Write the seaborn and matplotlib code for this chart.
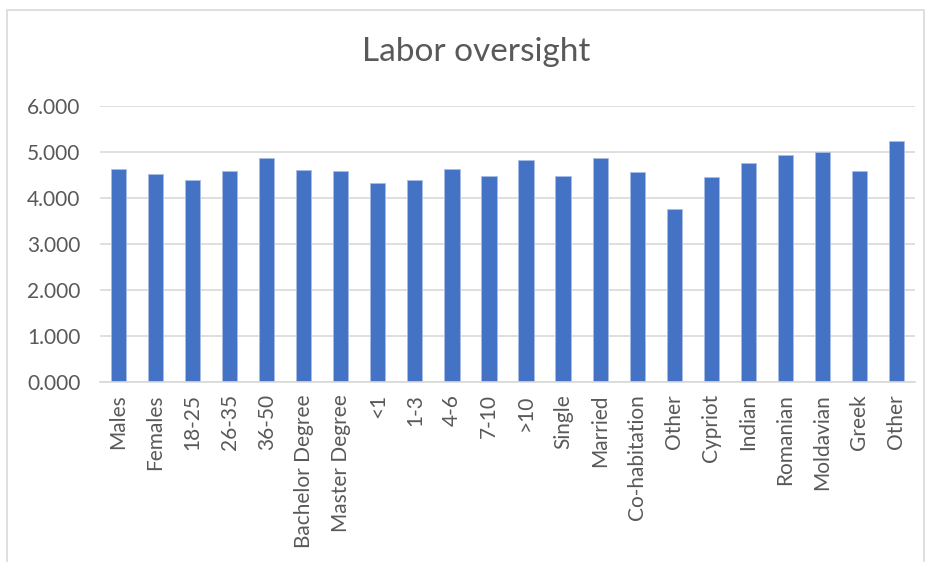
import matplotlib
matplotlib.use("Agg")
import matplotlib.pyplot as plt
from matplotlib.patches import Rectangle
import seaborn as sns
import pandas as pd

# Mean "Labor oversight" score by respondent group
labels = [
    "Males", "Females", "18-25", "26-35", "36-50", "Bachelor Degree",
    "Master Degree", "<1", "1-3", "4-6", "7-10", ">10", "Single", "Married",
    "Co-habitation", "Other", "Cypriot", "Indian", "Romanian", "Moldavian",
    "Greek", "Other",
]
scores = [
    4.63, 4.51, 4.39, 4.58, 4.86, 4.60,
    4.58, 4.31, 4.39, 4.62, 4.47, 4.81, 4.47, 4.86,
    4.56, 3.75, 4.46, 4.75, 4.93, 4.99,
    4.58, 5.24,
]
y_ticks = [0, 1, 2, 3, 4, 5, 6]

sns.set_theme(style="white")
plt.rcParams["font.family"] = ["Lato", "DejaVu Sans"]

text_color = "#595959"
grid_color = "#d9d9d9"
bar_color = "#4472C4"

df = pd.DataFrame({"pos": list(range(len(labels))), "score": scores})

fig = plt.figure(figsize=(9.3, 5.62), dpi=100)
ax = fig.add_axes([100 / 930, 1 - 381.7 / 562, 815 / 930, (381.7 - 105.7) / 562])

sns.barplot(data=df, x="pos", y="score", color=bar_color, saturation=1,
            width=0.41, edgecolor="#a9bde6", linewidth=0.6, ax=ax, zorder=3)

ax.set_xlim(-0.5, len(labels) - 0.5)
ax.set_ylim(0, 6)
ax.set_yticks(y_ticks)
ax.set_yticklabels([f"{v:.3f}" for v in y_ticks], color=text_color, fontsize=15)
ax.set_xticks(range(len(labels)))
ax.set_xticklabels(labels, rotation=90, color=text_color, fontsize=15)
ax.tick_params(axis="y", length=0, pad=14)
ax.tick_params(axis="x", length=0, pad=9)
ax.set_xlabel("")
ax.set_ylabel("")

ax.yaxis.grid(True, color=grid_color, linewidth=1.2, zorder=0)
ax.xaxis.grid(False)
for side in ("top", "right", "left"):
    ax.spines[side].set_visible(False)
ax.spines["bottom"].set_color(grid_color)
ax.spines["bottom"].set_linewidth(1.2)
ax.spines["bottom"].set_zorder(4)

fig.text(476 / 930, 1 - 52 / 562, "Labor oversight", ha="center", va="center",
         fontsize=24, color=text_color)

# Light frame around the chart area
fig.patches.append(Rectangle((7 / 930, -0.05), (924 - 7) / 930, 1.05 - 10 / 562,
                             transform=fig.transFigure, fill=False,
                             edgecolor=grid_color, linewidth=1.2))

fig.savefig("out.png", dpi=100, facecolor="white")
